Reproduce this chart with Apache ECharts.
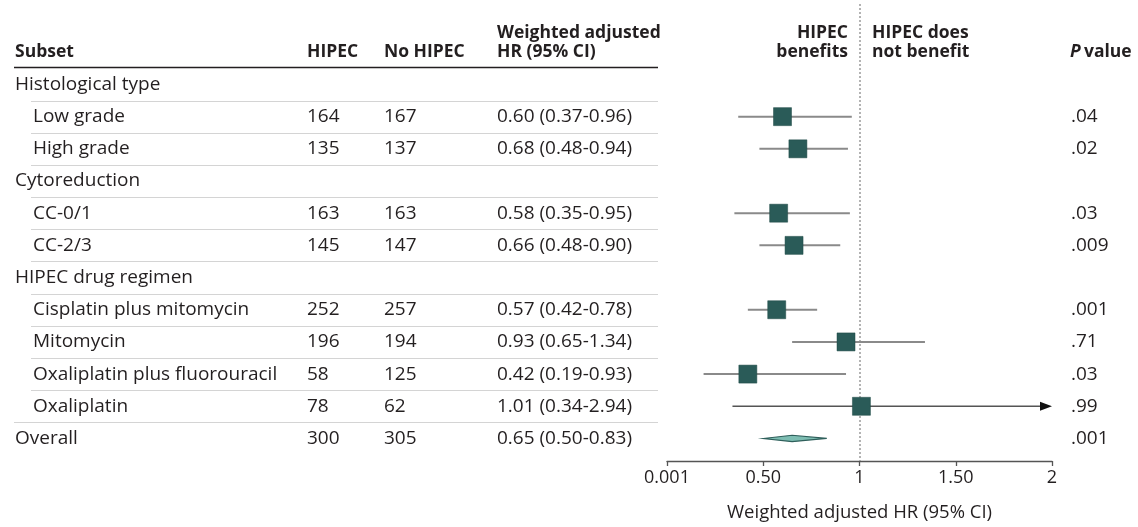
<!DOCTYPE html>
<html>
<head>
<meta charset="utf-8">
<title>Forest plot: HIPEC subsets</title>
<script src="https://cdn.jsdelivr.net/npm/echarts@6/dist/echarts.min.js"></script>
<style>
  html, body { margin: 0; padding: 0; background: #fff; }
  #chart { width: 1138px; height: 527px; }
</style>
</head>
<body>
<div id="chart"></div>
<script>
// Subsets, in display order (group headings have no estimate)
const rowLabels = ['Histological type', 'Low grade', 'High grade', 'Cytoreduction', 'CC-0/1', 'CC-2/3',
  'HIPEC drug regimen', 'Cisplatin plus mitomycin', 'Mitomycin', 'Oxaliplatin plus fluorouracil',
  'Oxaliplatin', 'Overall'];
const rowKind = ['group', 'item', 'item', 'group', 'item', 'item', 'group', 'item', 'item', 'item', 'item', 'overall'];
const hipecN   = [null, 164, 135, null, 163, 145, null, 252, 196, 58, 78, 300];
const noHipecN = [null, 167, 137, null, 163, 147, null, 257, 194, 125, 62, 305];
const hrEst    = [null, 0.60, 0.68, null, 0.58, 0.66, null, 0.57, 0.93, 0.42, 1.01, 0.65];
const hrLow    = [null, 0.37, 0.48, null, 0.35, 0.48, null, 0.42, 0.65, 0.19, 0.34, 0.50];
const hrHigh   = [null, 0.96, 0.94, null, 0.95, 0.90, null, 0.78, 1.34, 0.93, 2.94, 0.83];
const pValues  = ['', '.04', '.02', '', '.03', '.009', '', '.001', '.71', '.03', '.99', '.001'];
const xTickLabels = ['0.001', '0.50', '1', '1.50', '2'];

const FONT = '"Open Sans", "Noto Sans", sans-serif';
const INK = '#231f20';
const BOX = '#2a5b58';
const X_MAX = 2;
const BODY_PX = 19;
const HEAD_PX = 17.5;

const chart = echarts.init(document.getElementById('chart'), null, { renderer: 'canvas' });

const ciData = [], boxData = [], diamondData = [];
rowLabels.forEach((_, i) => {
  if (hrEst[i] == null) return;
  if (rowKind[i] === 'overall') {
    diamondData.push([hrLow[i], hrEst[i], hrHigh[i], i]);
  } else {
    ciData.push([hrLow[i], hrHigh[i], i]);
    boxData.push([hrEst[i], i]);
  }
});

const option = {
  animation: false,
  backgroundColor: '#ffffff',
  textStyle: { fontFamily: FONT },
  grid: { left: 667, right: 86, top: 4, bottom: 59.5, containLabel: false },
  xAxis: {
    type: 'value', min: 0, max: X_MAX, interval: 0.5,
    axisLine: { show: true, onZero: false, lineStyle: { color: '#555555', width: 1.3 } },
    axisTick: { show: true, length: 5, lineStyle: { color: '#555555', width: 1.3 } },
    splitLine: { show: false },
    axisLabel: {
      color: INK, fontSize: 18, fontFamily: FONT, margin: 8,
      formatter: (v) => xTickLabels[Math.round(v / 0.5)]
    },
    name: 'Weighted adjusted HR (95% CI)',
    nameLocation: 'middle', nameGap: 42,
    nameTextStyle: { color: INK, fontSize: 18.5, fontFamily: FONT }
  },
  yAxis: {
    type: 'value', inverse: true, min: -2.5, max: 11.7,
    show: false
  },
  series: [
    {
      // confidence intervals
      type: 'custom', z: 2,
      renderItem: (params, api) => {
        const lo = api.value(0), hi = api.value(1), row = api.value(2);
        const clipped = hi > X_MAX;
        const p1 = api.coord([lo, row]);
        const p2 = api.coord([Math.min(hi, X_MAX), row]);
        const children = [];
        if (clipped) {
          children.push({ type: 'line', shape: { x1: p1[0], y1: p1[1], x2: p2[0] - 8, y2: p2[1] },
            style: { stroke: '#555555', lineWidth: 1.6 } });
          children.push({ type: 'polygon',
            shape: { points: [[p2[0], p2[1]], [p2[0] - 12, p2[1] - 4.5], [p2[0] - 12, p2[1] + 4.5]] },
            style: { fill: '#111111' } });
        } else {
          children.push({ type: 'line', shape: { x1: p1[0], y1: p1[1], x2: p2[0], y2: p2[1] },
            style: { stroke: '#8a8a8a', lineWidth: 2 } });
        }
        return { type: 'group', children };
      },
      data: ciData
    },
    {
      // point estimates
      type: 'scatter', z: 4,
      symbol: 'rect', symbolSize: 18,
      itemStyle: { color: BOX, opacity: 1, borderColor: '#1f4845', borderWidth: 0.5 },
      data: boxData,
      markLine: {
        silent: true, symbol: 'none', z: 1,
        label: { show: false },
        lineStyle: { color: '#9a9a9a', type: [2, 2], width: 1.5, opacity: 1 },
        data: [{ xAxis: 1 }]
      }
    },
    {
      // pooled estimate
      type: 'custom', z: 3,
      renderItem: (params, api) => {
        const lo = api.value(0), est = api.value(1), hi = api.value(2), row = api.value(3);
        const a = api.coord([lo, row]), b = api.coord([est, row]), c = api.coord([hi, row]);
        return {
          type: 'polygon',
          shape: { points: [a, [b[0], b[1] - 3.2], c, [b[0], b[1] + 3.2]] },
          style: { fill: '#7dbdb2', stroke: '#2f5f5b', lineWidth: 1.2 }
        };
      },
      data: diamondData
    }
  ]
};
chart.setOption(option);

// Table text and rules placed on the same row scale as the plot
const rowY = (i) => chart.convertToPixel({ yAxisIndex: 0 }, i);
const bodyStyle = (extra) => Object.assign(
  { fill: INK, font: BODY_PX + 'px ' + FONT, textVerticalAlign: 'middle' }, extra);
const graphics = [];

const HEAD_Y1 = 33, HEAD_Y2 = 52;
const hdr = (x, y, txt, align) => graphics.push({
  type: 'text', x, y, silent: true,
  style: { text: txt, fill: INK, font: 'bold ' + HEAD_PX + 'px ' + FONT,
    textVerticalAlign: 'middle', textAlign: align || 'left' }
});
hdr(15, HEAD_Y2, 'Subset');
hdr(307, HEAD_Y2, 'HIPEC');
hdr(384, HEAD_Y2, 'No HIPEC');
hdr(497, HEAD_Y1, 'Weighted adjusted');
hdr(497, HEAD_Y2, 'HR (95% CI)');
hdr(848, HEAD_Y1, 'HIPEC', 'right');
hdr(848, HEAD_Y2, 'benefits', 'right');
hdr(872, HEAD_Y1, 'HIPEC does');
hdr(872, HEAD_Y2, 'not benefit');
graphics.push({
  type: 'text', x: 1070, y: HEAD_Y2, silent: true,
  style: {
    text: '{i|P} {b|value}', textVerticalAlign: 'middle',
    rich: {
      i: { fontStyle: 'italic', fontWeight: 'bold', fontSize: HEAD_PX, fontFamily: FONT, fill: INK },
      b: { fontWeight: 'bold', fontSize: HEAD_PX, fontFamily: FONT, fill: INK }
    }
  }
});
graphics.push({ type: 'line', silent: true, shape: { x1: 14, y1: 67.5, x2: 658, y2: 67.5 },
  style: { stroke: '#231f20', lineWidth: 1.6 } });

rowLabels.forEach((label, i) => {
  const y = rowY(i);
  const indent = rowKind[i] === 'item' ? 33 : 15;
  graphics.push({ type: 'text', x: indent, y, silent: true, style: bodyStyle({ text: label }) });
  if (hipecN[i] != null) {
    graphics.push({ type: 'text', x: 307, y, silent: true, style: bodyStyle({ text: String(hipecN[i]) }) });
    graphics.push({ type: 'text', x: 384, y, silent: true, style: bodyStyle({ text: String(noHipecN[i]) }) });
    const ci = hrEst[i].toFixed(2) + ' (' + hrLow[i].toFixed(2) + '-' + hrHigh[i].toFixed(2) + ')';
    graphics.push({ type: 'text', x: 497, y, silent: true, style: bodyStyle({ text: ci }) });
  }
  if (pValues[i]) {
    graphics.push({ type: 'text', x: 1071, y, silent: true, style: bodyStyle({ text: pValues[i] }) });
  }
  if (i < rowLabels.length - 1) {
    const sepY = Math.round((rowY(i) + rowY(i + 1)) / 2) + 0.5;
    const startX = rowKind[i + 1] === 'overall' ? 14 : 31;
    graphics.push({ type: 'line', silent: true, shape: { x1: startX, y1: sepY, x2: 658, y2: sepY },
      style: { stroke: '#d4d4d4', lineWidth: 1.2 } });
  }
});

chart.setOption({ graphic: graphics });
</script>
</body>
</html>
